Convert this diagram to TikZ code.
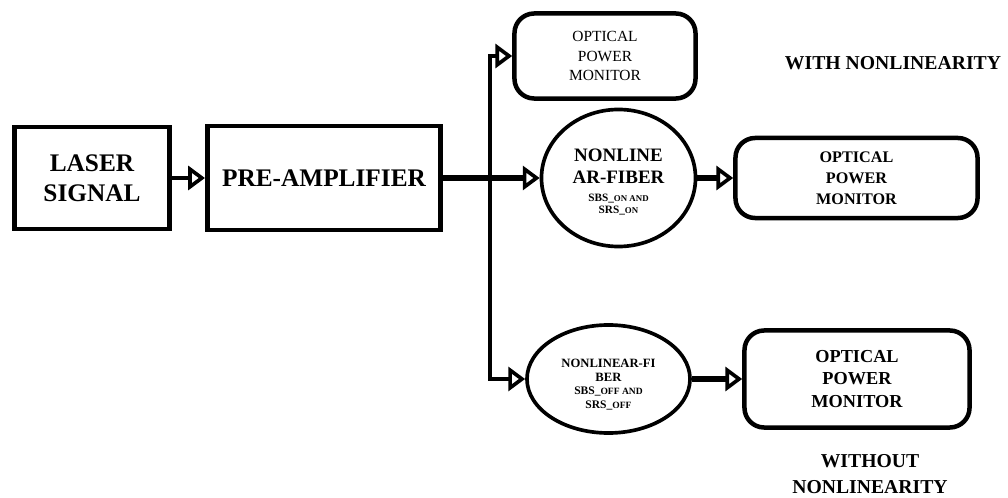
\documentclass[tikz,border=0pt]{standalone}
\usepackage{fontspec}
\setmainfont{Liberation Serif}
\usetikzlibrary{shapes.geometric,arrows.meta}

\begin{document}
\begin{tikzpicture}[x=0.025cm,y=-0.025cm]
    \tikzstyle{every node}=[inner sep=0pt,align=center,font=\bfseries];
    \tikzstyle{blk}=[draw,line width=3.5pt,rectangle];
    \tikzstyle{opm}=[draw,line width=3.2pt,rectangle,rounded corners=14pt];
    \tikzstyle{fib}=[draw,line width=2.6pt,ellipse];
    \tikzstyle{lnk}=[line width=3pt,-{Triangle[open,length=12pt,width=17pt,line width=2.6pt]}];
    \useasboundingbox (0,0) rectangle (1008,498);

    \node[blk,minimum width=3.875cm,minimum height=2.55cm,
          font=\bfseries\fontsize{18}{21}\selectfont] at (92,178) (laser) {LASER\\SIGNAL};
    \node[blk,minimum width=5.825cm,minimum height=2.6cm,
          font=\bfseries\fontsize{18}{21}\selectfont] at (324,178) (pre) {PRE-AMPLIFIER};

    \node[opm,minimum width=4.525cm,minimum height=2.125cm,
          font=\fontsize{11}{13.8}\selectfont] at (605,56) (opm1) {OPTICAL\\POWER\\MONITOR};
    \node[fib,minimum width=3.85cm,minimum height=3.425cm,
          font=\bfseries\fontsize{13.5}{16}\selectfont] at (618.5,178) (fib1)
        {\rule{0pt}{14pt}NONLINE\\AR-FIBER\\[-3.5pt]
         \fontsize{8}{8.8}\selectfont SBS\_{\fontsize{6.3}{8.8}\selectfont ON AND}\\[-7.5pt]
         \fontsize{8}{8.8}\selectfont SRS\_{\fontsize{6.3}{8.8}\selectfont ON}};
    \node[opm,minimum width=6.05cm,minimum height=2cm,
          font=\bfseries\fontsize{11.5}{15}\selectfont] at (856.5,178) (opm2) {OPTICAL\\POWER\\MONITOR};

    \node[fib,minimum width=4.075cm,minimum height=2.7cm,
          font=\bfseries\fontsize{9}{9.8}\selectfont] at (608.5,379) (fib2)
        {\rule{0pt}{14pt}NONLINEAR-FI\\BER\\
         \fontsize{8.2}{9.5}\selectfont SBS\_{\fontsize{6.8}{9.5}\selectfont OFF AND}\\
         \fontsize{8.2}{9.5}\selectfont SRS\_{\fontsize{6.8}{9.5}\selectfont OFF}};
    \node[opm,minimum width=5.625cm,minimum height=2.425cm,
          font=\bfseries\fontsize{13}{16}\selectfont] at (857,379) (opm3) {OPTICAL\\POWER\\MONITOR};

    \node[font=\bfseries\fontsize{14}{16}\selectfont] at (893,63) (with) {WITH NONLINEARITY};
    \node[font=\bfseries\fontsize{14}{19}\selectfont] at (870,474) (without) {WITHOUT\\NONLINEARITY};

    \coordinate (sp) at (490,178);

    \draw[lnk,line width=3.5pt] (laser) to (pre);
    \draw[lnk,line width=4pt] (pre) to (fib1);
    \draw[lnk,line width=2.8pt] (sp) |- (opm1);
    \draw[lnk,line width=2.8pt] (sp) |- (fib2);
    \draw[lnk,line width=4pt] (fib1) to (opm2);
    \draw[lnk,line width=4pt] (fib2) to (opm3);
\end{tikzpicture}
\end{document}
